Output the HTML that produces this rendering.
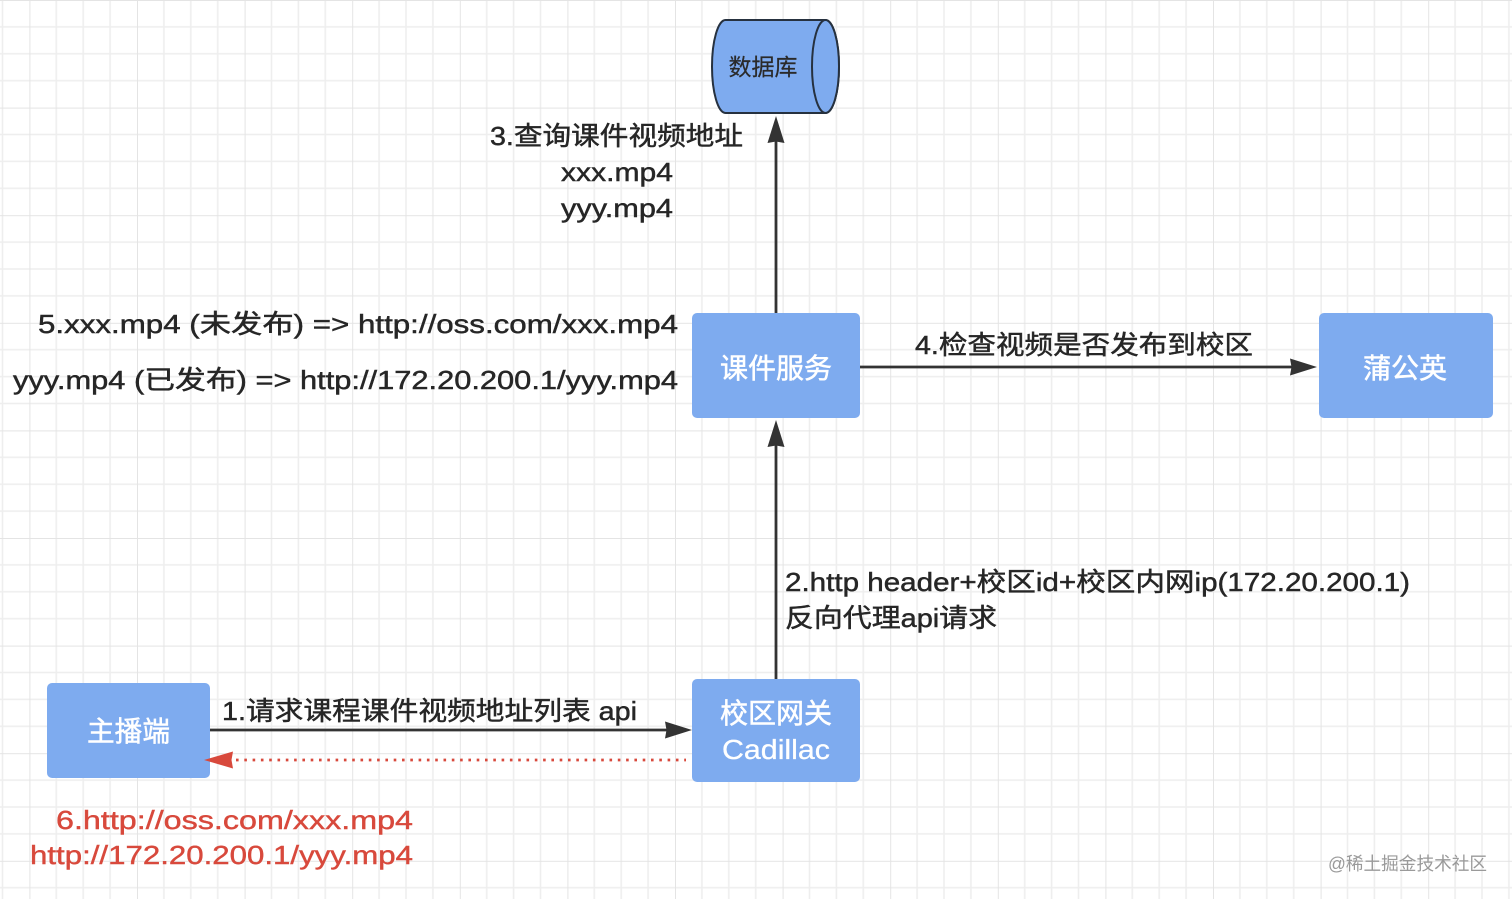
<!DOCTYPE html>
<html>
<head>
<meta charset="utf-8">
<style>
  html,body{margin:0;padding:0;background:#fff;}
  svg{display:block;}
  text{font-family:"Liberation Sans","Noto Sans CJK SC",sans-serif;}
</style>
</head>
<body>
<svg width="1512" height="899" viewBox="0 0 1512 899" xmlns="http://www.w3.org/2000/svg">
  <defs>
    <pattern id="grid" patternUnits="userSpaceOnUse" x="29.4" y="0" width="107.6" height="107.6">
      <g stroke="#eeeeee" stroke-width="1.6" fill="none">
        <line x1="26.9" y1="0" x2="26.9" y2="107.6"/>
        <line x1="53.8" y1="0" x2="53.8" y2="107.6"/>
        <line x1="80.7" y1="0" x2="80.7" y2="107.6"/>
        <line x1="0" y1="26.9" x2="107.6" y2="26.9"/>
        <line x1="0" y1="53.8" x2="107.6" y2="53.8"/>
        <line x1="0" y1="80.7" x2="107.6" y2="80.7"/>
      </g>
      <g stroke="#e4e4e4" stroke-width="2" fill="none">
        <line x1="0" y1="0" x2="0" y2="107.6"/>
        <line x1="0" y1="0" x2="107.6" y2="0"/>
      </g>
    </pattern>
  </defs>
  <rect x="0" y="0" width="1512" height="899" fill="#ffffff"/>
  <rect x="0" y="0" width="1512" height="899" fill="url(#grid)"/>

  <!-- Database cylinder -->
  <path d="M725.5,20 L825.5,20 A13.5,46.5 0 0 1 825.5,113 L725.5,113 A13.5,46.5 0 0 1 725.5,20 Z" fill="#7eabef" stroke="#26313f" stroke-width="2"/>
  <ellipse cx="825.5" cy="66.5" rx="13.5" ry="46.5" fill="#7eabef" stroke="#26313f" stroke-width="2"/>
  <text x="763" y="75" font-size="23" fill="#2a2a2a" stroke="#2a2a2a" stroke-width="0.2" text-anchor="middle" textLength="69" lengthAdjust="spacingAndGlyphs">数据库</text>

  <!-- Boxes -->
  <rect x="692" y="313" width="168" height="105" rx="5" fill="#7eabef"/>
  <text x="776" y="378" font-size="28" fill="#ffffff" stroke="#ffffff" stroke-width="0.5" text-anchor="middle" textLength="112" lengthAdjust="spacingAndGlyphs">课件服务</text>

  <rect x="1319" y="313" width="174" height="105" rx="5" fill="#7eabef"/>
  <text x="1405" y="378" font-size="28" fill="#ffffff" stroke="#ffffff" stroke-width="0.5" text-anchor="middle" textLength="84" lengthAdjust="spacingAndGlyphs">蒲公英</text>

  <rect x="47" y="683" width="163" height="95" rx="5" fill="#7eabef"/>
  <text x="128.5" y="741" font-size="28" fill="#ffffff" stroke="#ffffff" stroke-width="0.5" text-anchor="middle" textLength="83" lengthAdjust="spacingAndGlyphs">主播端</text>

  <rect x="692" y="679" width="168" height="103" rx="5" fill="#7eabef"/>
  <text x="776" y="723" font-size="28" fill="#ffffff" stroke="#ffffff" stroke-width="0.5" text-anchor="middle" textLength="112" lengthAdjust="spacingAndGlyphs">校区网关</text>
  <text x="776" y="759" font-size="28" fill="#ffffff" stroke="#ffffff" stroke-width="0.3" text-anchor="middle" textLength="108" lengthAdjust="spacingAndGlyphs">Cadillac</text>

  <!-- Connectors -->
  <g stroke="#333333" stroke-width="2.8" fill="none">
    <line x1="776" y1="313" x2="776" y2="140"/>
    <line x1="776" y1="679" x2="776" y2="444"/>
    <line x1="860" y1="367" x2="1292" y2="367"/>
    <line x1="210" y1="730" x2="667" y2="730"/>
  </g>
  <g fill="#333333">
    <path d="M776,116 L784.5,143 L776,141.5 L767.5,143 Z"/>
    <path d="M776,420 L784.5,447 L776,445.5 L767.5,447 Z"/>
    <path d="M1317,367 L1290,375.5 L1291.5,367 L1290,358.5 Z"/>
    <path d="M692,730 L665,738.5 L666.5,730 L665,721.5 Z"/>
  </g>

  <!-- red dotted return -->
  <line x1="236" y1="760" x2="686" y2="760" stroke="#d8493c" stroke-width="2.8" stroke-dasharray="2.6 5.7"/>
  <path d="M204,760 L233,751.5 L231.5,760 L233,768.5 Z" fill="#d8493c"/>

  <!-- Labels -->
  <g fill="#262626" stroke="#262626" stroke-width="0.45" font-size="26">
    <text x="490" y="145" textLength="253" lengthAdjust="spacingAndGlyphs">3.查询课件视频地址</text>
    <text x="561" y="181" textLength="112" lengthAdjust="spacingAndGlyphs">xxx.mp4</text>
    <text x="561" y="217" textLength="112" lengthAdjust="spacingAndGlyphs">yyy.mp4</text>

    <text x="38" y="333" textLength="640" lengthAdjust="spacingAndGlyphs">5.xxx.mp4 (未发布) =&gt; http://oss.com/xxx.mp4</text>
    <text x="13" y="389" textLength="665" lengthAdjust="spacingAndGlyphs">yyy.mp4 (已发布) =&gt; http://172.20.200.1/yyy.mp4</text>

    <text x="915" y="354" textLength="338" lengthAdjust="spacingAndGlyphs">4.检查视频是否发布到校区</text>

    <text x="785" y="591" textLength="625" lengthAdjust="spacingAndGlyphs">2.http header+校区id+校区内网ip(172.20.200.1)</text>
    <text x="785" y="627" textLength="212" lengthAdjust="spacingAndGlyphs">反向代理api请求</text>

    <text x="222" y="720" textLength="415" lengthAdjust="spacingAndGlyphs">1.请求课程课件视频地址列表 api</text>
  </g>
  <g fill="#d8493c" stroke="#d8493c" stroke-width="0.4" font-size="26">
    <text x="56" y="829" textLength="357" lengthAdjust="spacingAndGlyphs">6.http://oss.com/xxx.mp4</text>
    <text x="30" y="864" textLength="383" lengthAdjust="spacingAndGlyphs">http://172.20.200.1/yyy.mp4</text>
  </g>

  <!-- watermark -->
  <text x="1328" y="870" font-size="18" fill="#9a9a9a" textLength="159" lengthAdjust="spacingAndGlyphs">@稀土掘金技术社区</text>
</svg>
</body>
</html>
